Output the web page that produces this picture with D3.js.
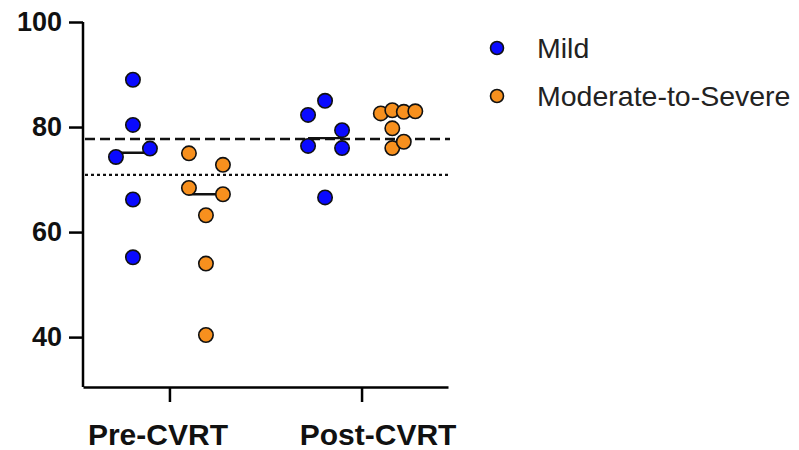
<!DOCTYPE html>
<html>
<head>
<meta charset="utf-8">
<script src="https://cdn.jsdelivr.net/npm/d3@7"></script>
<style>
  body { margin: 0; background: #fff; }
  svg { font-family: "Liberation Sans", Arial, sans-serif; }
</style>
</head>
<body>
<div id="chart"></div>
<script>
// data
var timepoints = ["Pre-CVRT", "Post-CVRT"];
var severities = ["Mild", "Moderate-to-Severe"];
var preMild = [89.0, 80.4, 74.3, 75.9, 66.2, 55.2];
var preModerate = [75.0, 72.8, 68.4, 67.2, 63.2, 54.0, 40.4];
var postMild = [85.0, 82.3, 79.4, 76.4, 76.0, 66.6];
var postModerate = [82.6, 83.2, 82.9, 83.0, 79.75, 76.0, 77.2];
var yTicks = [40, 60, 80, 100];
var dashedRef = 77.7;
var dottedRef = 70.9;

var colors = {"Mild": "#0a0aff", "Moderate-to-Severe": "#f7901e"};

var groups = [
  {time: "Pre-CVRT", sev: "Mild", values: preMild},
  {time: "Pre-CVRT", sev: "Moderate-to-Severe", values: preModerate},
  {time: "Post-CVRT", sev: "Mild", values: postMild},
  {time: "Post-CVRT", sev: "Moderate-to-Severe", values: postModerate}
];

var width = 799, height = 450;
var svg = d3.select("#chart").append("svg")
  .attr("width", width)
  .attr("height", height);

var x = d3.scalePoint()
  .domain(timepoints)
  .range([83, 448])
  .padding(0.45);

var sub = d3.scaleBand()
  .domain(severities)
  .range([-73, 73]);

var y = d3.scaleLinear()
  .domain([30.5, 100])
  .range([387, 22]);

// simple prism-like scatter: rows of near-equal values spread sideways
function swarm(values) {
  var pts = values.map(function(v, i) { return {v: v, i: i, py: y(v), dx: 0}; });
  var sorted = pts.slice().sort(function(a, b) { return b.v - a.v; });
  var rows = [], row = null;
  sorted.forEach(function(p) {
    if (row && p.py - row[0].py < 12) row.push(p);
    else { row = [p]; rows.push(row); }
  });
  var clusters = [], cl = null, last = null;
  rows.forEach(function(r) {
    if (cl && r[0].py - last.py < 16.5) cl.push(r);
    else { cl = [r]; clusters.push(cl); }
    last = r[r.length - 1];
  });
  clusters.forEach(function(c) {
    var pitch = d3.max(c, function(r) { return r.length; }) >= 3 ? 11.5 : 34;
    c.forEach(function(r, k) {
      if (r.length == 1) {
        r[0].dx = (c.length == 1 || k == 0) ? 0 : (k % 2 ? -1 : 1) * pitch / 2;
      } else {
        r.sort(function(a, b) { return a.i - b.i; });
        r.forEach(function(p, j) { p.dx = (j - (r.length - 1) / 2) * pitch; });
      }
    });
  });
  return pts;
}

// reference lines
svg.append("line")
  .attr("x1", x.range()[0] + 2).attr("x2", 450)
  .attr("y1", y(dashedRef)).attr("y2", y(dashedRef))
  .attr("stroke", "#111").attr("stroke-width", 2.5)
  .attr("stroke-dasharray", "10,5");

svg.append("line")
  .attr("x1", x.range()[0] + 2).attr("x2", 450)
  .attr("y1", y(dottedRef)).attr("y2", y(dottedRef))
  .attr("stroke", "#111").attr("stroke-width", 2.3)
  .attr("stroke-dasharray", "3,3");

// Y axis
var yAxis = svg.append("g")
  .attr("transform", "translate(83,0)")
  .call(d3.axisLeft(y).tickValues(yTicks).tickSize(14).tickPadding(7).tickSizeOuter(0));
yAxis.select(".domain").attr("stroke-width", 2.5).attr("d", "M0," + y(100) + "V" + y.range()[0]);
yAxis.selectAll(".tick line").attr("stroke-width", 2.5);
yAxis.selectAll(".tick text")
  .style("font-size", "27px").style("font-weight", "bold").attr("fill", "#111");

// X axis (labels sit a little off their ticks in the original)
var labelShift = {"Pre-CVRT": -12, "Post-CVRT": 16};
var xAxis = svg.append("g")
  .attr("transform", "translate(0," + y.range()[0] + ")")
  .call(d3.axisBottom(x).tickSize(15).tickPadding(22).tickSizeOuter(0));
xAxis.select(".domain").attr("stroke-width", 2.5);
xAxis.selectAll(".tick line").attr("stroke-width", 2.5);
xAxis.selectAll(".tick text")
  .attr("dx", function(d) { return labelShift[d]; })
  .style("font-size", "30px").style("font-weight", "bold").attr("fill", "#111");

// median lines, then the points
groups.forEach(function(g) {
  var cx = x(g.time) + sub(g.sev) + sub.bandwidth() / 2;
  var med = d3.median(g.values);
  svg.append("line")
    .attr("x1", cx - 17).attr("x2", cx + 17)
    .attr("y1", y(med)).attr("y2", y(med))
    .attr("stroke", "#111").attr("stroke-width", 2.3);
});

groups.forEach(function(g) {
  var cx = x(g.time) + sub(g.sev) + sub.bandwidth() / 2;
  svg.append("g").selectAll("circle")
    .data(swarm(g.values))
    .enter()
    .append("circle")
    .attr("cx", function(d) { return cx + d.dx; })
    .attr("cy", function(d) { return d.py; })
    .attr("r", 7.2)
    .attr("fill", colors[g.sev])
    .attr("stroke", "#111")
    .attr("stroke-width", 1.6);
});

// legend
var legend = svg.append("g").attr("transform", "translate(497,48)");
severities.forEach(function(s, i) {
  var row = legend.append("g").attr("transform", "translate(0," + (i * 48) + ")");
  row.append("circle")
    .attr("r", 6.5)
    .attr("fill", colors[s])
    .attr("stroke", "#111")
    .attr("stroke-width", 1.6);
  row.append("text")
    .attr("x", 40)
    .attr("dy", "0.36em")
    .style("font-size", "28.5px")
    .attr("fill", "#222")
    .text(s);
});
</script>
</body>
</html>
